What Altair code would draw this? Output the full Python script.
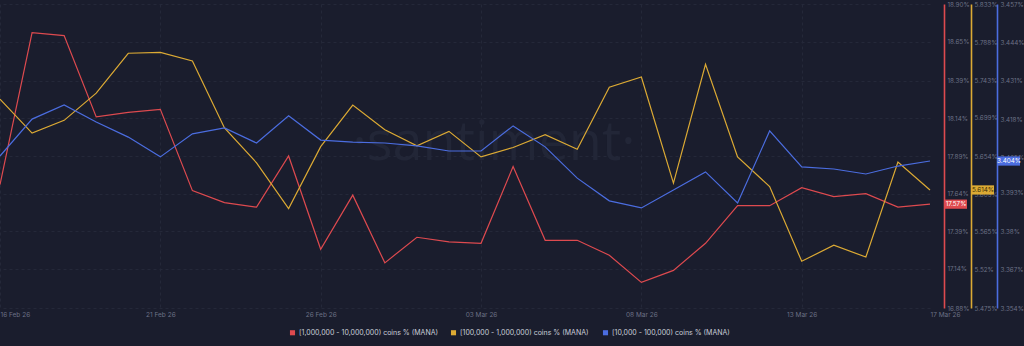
import altair as alt
import pandas as pd

dates = [
    "2026-02-16", "2026-02-17", "2026-02-18", "2026-02-19", "2026-02-20",
    "2026-02-21", "2026-02-22", "2026-02-23", "2026-02-24", "2026-02-25",
    "2026-02-26", "2026-02-27", "2026-02-28", "2026-03-01", "2026-03-02",
    "2026-03-03", "2026-03-04", "2026-03-05", "2026-03-06", "2026-03-07",
    "2026-03-08", "2026-03-09", "2026-03-10", "2026-03-11", "2026-03-12",
    "2026-03-13", "2026-03-14", "2026-03-15", "2026-03-16", "2026-03-17",
]

red_vals = [17.70, 18.71, 18.69, 18.15, 18.18, 18.20, 17.66, 17.58, 17.55, 17.89,
            17.27, 17.63, 17.18, 17.35, 17.32, 17.31, 17.82, 17.33, 17.33, 17.23,
            17.05, 17.13, 17.31, 17.56, 17.56, 17.68, 17.62, 17.64, 17.55, 17.57]
gold_vals = [5.721, 5.681, 5.696, 5.728, 5.775, 5.776, 5.766, 5.687, 5.646, 5.592,
             5.665, 5.714, 5.685, 5.666, 5.683, 5.653, 5.664, 5.679, 5.662, 5.735,
             5.747, 5.622, 5.762, 5.653, 5.618, 5.530, 5.549, 5.535, 5.647, 5.614]
blue_vals = [3.4055, 3.4180, 3.4228, 3.4170, 3.4119, 3.4052, 3.4130, 3.4150, 3.4099, 3.4191,
             3.4109, 3.4102, 3.4099, 3.4089, 3.4072, 3.4072, 3.4157, 3.4086, 3.3980, 3.3903,
             3.3879, 3.3940, 3.4001, 3.3896, 3.4140, 3.4018, 3.4011, 3.3994, 3.4021, 3.4038]

series_names = [
    "[1,000,000 - 10,000,000) coins % (MANA)",
    "[100,000  - 1,000,000) coins % (MANA)",
    "[10,000 - 100,000) coins % (MANA)",
]
series_colors = ["#de4a4f", "#dcaa34", "#4b6de0"]

red_ticks = [16.88, 17.14, 17.39, 17.64, 17.89, 18.14, 18.39, 18.65, 18.90]
gold_ticks = [5.475, 5.52, 5.565, 5.609, 5.654, 5.699, 5.743, 5.788, 5.833]
blue_ticks = [3.354, 3.367, 3.38, 3.393, 3.405, 3.418, 3.431, 3.444, 3.457]

x_tick_dates = [(2026, 2, 16), (2026, 2, 21), (2026, 2, 26), (2026, 3, 3),
                (2026, 3, 8), (2026, 3, 13), (2026, 3, 17)]

BG = "#1a1d2d"
GRID = "#242839"
LABEL = "#6c7186"
FONT = "Inter"

color_scale = alt.Scale(domain=series_names, range=series_colors)
legend = alt.Legend(
    orient="none", legendX=289, legendY=325, direction="horizontal",
    title=None, symbolType="square", symbolSize=26, symbolStrokeWidth=0,
    symbolOpacity=1, labelFontSize=7, labelColor="#c9cdd9", labelFont=FONT,
    columnPadding=11, labelLimit=400, symbolOffset=0, labelOffset=3,
)

x_axis = alt.Axis(
    values=[alt.DateTime(year=y, month=m, date=d, utc=True) for (y, m, d) in x_tick_dates],
    format="%d %b %y", labelFontSize=6.5, labelColor=LABEL, labelFont=FONT,
    domain=False, ticks=False, labelPadding=3, grid=True, gridColor=GRID,
    gridDash=[3, 3], title=None,
    labelAlign={"condition": {"test": "datum.value < utc(2026,1,17) || datum.value > utc(2026,2,16)",
                              "value": "left"}, "value": "center"},
    gridOpacity={"condition": {"test": "datum.value > utc(2026,2,16)", "value": 0}, "value": 1},
)
x_enc = alt.X("date:T", axis=x_axis,
              scale=alt.Scale(type="utc", domain=[alt.DateTime(year=2026, month=2, date=16, utc=True),
                                                  alt.DateTime(year=2026, month=3, date=17, utc=True)]))


def series_layer(vals, idx, ticks, fmt, offset, grid, tag_dx, tag_text_color):
    name = series_names[idx]
    df = pd.DataFrame({"date": dates, "value": vals, "series": name})
    y_axis = alt.Axis(
        orient="right", offset=offset, values=ticks,
        labelExpr=f"format(datum.value, '{fmt}') + '%'",
        labelFontSize=6.3, labelColor=LABEL, labelFont=FONT, labelPadding=3,
        ticks=False, domainColor=series_colors[idx], domainWidth=1.6,
        grid=grid, gridColor=GRID, gridDash=[3, 3], title=None,
    )
    y_enc = alt.Y("value:Q", axis=y_axis,
                  scale=alt.Scale(domain=[ticks[0], ticks[-1]], nice=False, zero=False))
    base = alt.Chart(df).encode(x=x_enc, y=y_enc)
    line = base.mark_line(strokeWidth=1.2).encode(
        color=alt.Color("series:N", scale=color_scale, legend=legend))
    last = alt.Chart(df.tail(1)).encode(x=x_enc, y=y_enc)
    tag = last.mark_point(
        shape="M-1,-0.42L1,-0.42L1,0.42L-1,0.42Z", size=484, filled=True,
        opacity=1, xOffset=tag_dx,
    ).encode(color=alt.Color("series:N", scale=color_scale, legend=legend))
    txt = last.transform_calculate(
        lbl=f"format(datum.value, '{fmt}') + '%'"
    ).mark_text(dx=tag_dx, fontSize=6.3, font=FONT, color=tag_text_color).encode(text="lbl:N")
    return alt.layer(line, tag, txt)


watermark = alt.Chart(pd.DataFrame({"t": ["·santiment·"]})).mark_text(
    fontSize=54, font="Open Sans", color="#222637", align="center", baseline="middle"
).encode(text="t:N", x=alt.value(494), y=alt.value(140))

red_layer = series_layer(red_vals, 0, red_ticks, ".2f", 14, True, 26, "#ffffff")
gold_layer = series_layer(gold_vals, 1, gold_ticks, ".3~f", 41, False, 53, "#3b2c05")
blue_layer = series_layer(blue_vals, 2, blue_ticks, ".3~f", 67, False, 79, "#ffffff")

chart = alt.layer(watermark, red_layer, gold_layer, blue_layer).resolve_scale(
    y="independent"
).properties(
    width=930, height=304,
    autosize=alt.AutoSizeParams(type="none"),
    padding={"left": 0, "top": 4, "right": 94, "bottom": 38},
    background=BG,
).configure_view(stroke=None)

chart.save("out.html", embed_options={"renderer": "svg", "actions": False})
